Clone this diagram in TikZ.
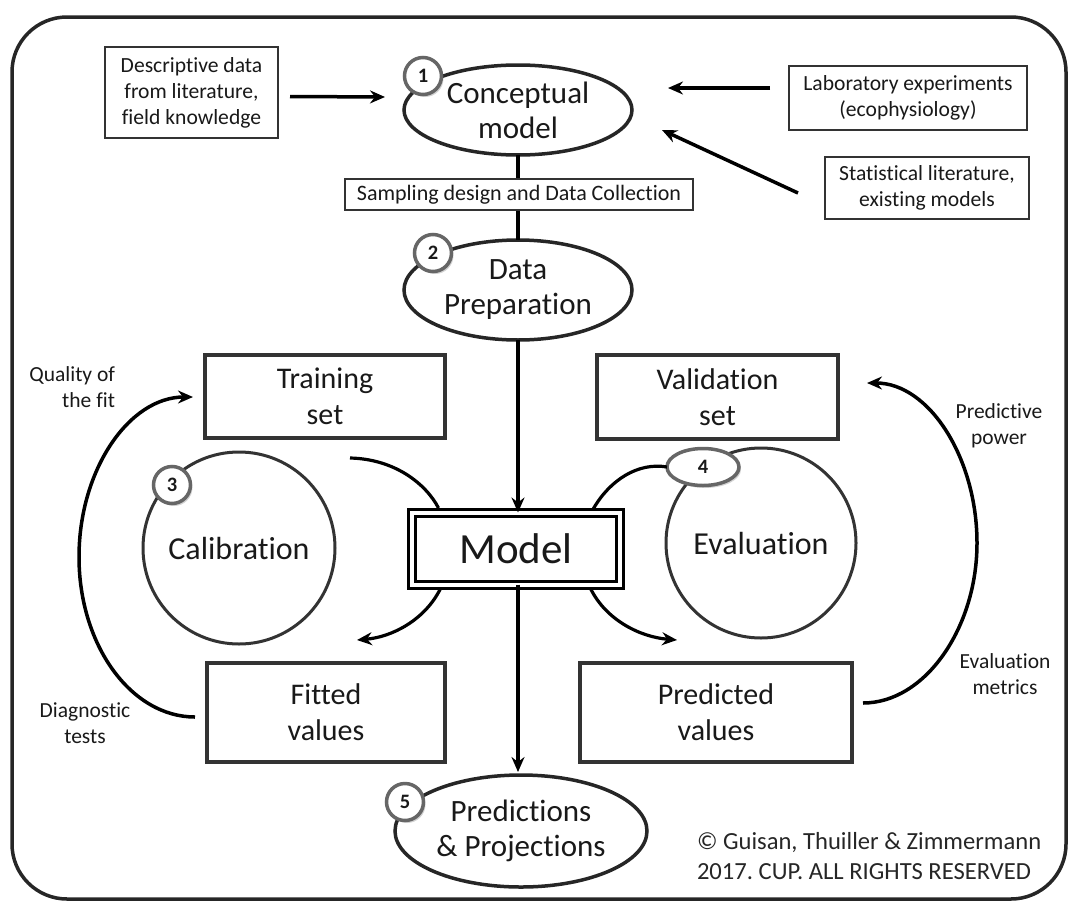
\documentclass[tikz,border=0pt]{standalone}
\usepackage{fontspec}
\setmainfont{Carlito}[Ligatures=NoCommon]
\usetikzlibrary{shapes.geometric,arrows.meta,shadows,calc}
\frenchspacing
\begin{document}
\begin{tikzpicture}[x=1pt,y=-1pt,
  every node/.style={inner sep=0pt, outer sep=0pt, text=black!90},
  arr/.style={line width=3.5pt,-{Stealth[length=15pt,width=13pt,inset=5pt]}},
  plain/.style={line width=3.5pt},
  smallbox/.style={draw=black!80, line width=1.4pt, fill=white, align=center, font=\fontsize{21.6}{26}\selectfont},
  bigbox/.style={draw=black!80, line width=3.5pt, fill=white, align=center, font=\fontsize{30}{36}\selectfont},
  ell/.style={ellipse, draw=black!85, line width=3.5pt, fill=white},
  bigtext/.style={align=center, font=\fontsize{31}{35}\selectfont},
  circ/.style={circle, draw=black!80, line width=3pt, font=\fontsize{32}{36}\selectfont},
  badge/.style={circle, draw=black!60, line width=3.5pt, fill=white, minimum size=37pt,
    font=\fontsize{20.5}{20}\selectfont\bfseries,
    drop shadow={opacity=0.35, shadow xshift=2pt, shadow yshift=-2.5pt}},
  side/.style={align=center, font=\fontsize{21.5}{26}\selectfont}
]
\useasboundingbox (0,0) rectangle (1070,902);
\draw[line width=3.5pt, draw=black!85, rounded corners=55pt] (12,17) rectangle (1066,899);

% top row
\node[smallbox, minimum width=173pt, minimum height=91pt] (desc) at (191.5,92.5)
  {Descriptive data\\from literature,\\field knowledge};
\node[smallbox, minimum width=238pt, minimum height=64pt] (lab) at (908,98)
  {Laboratory experiments\\(ecophysiology)};
\node[smallbox, minimum width=204pt, minimum height=62pt] (stat) at (927,188)
  {Statistical literature,\\existing models};

\node[ell, minimum width=228pt, minimum height=90pt,
  label={[bigtext]center:Conceptual\\model}] (cm) at (518,110) {};
\node[ell, minimum width=228pt, minimum height=100pt,
  label={[bigtext]center:Data\\Preparation}] (dp) at (518,290) {};

\draw[plain] (cm.south) -- (dp.north);
\node[smallbox, minimum width=348pt, minimum height=31pt, font=\fontsize{22}{26}\selectfont] (samp) at (519,194.5)
  {Sampling design and Data Collection};

\draw[arr] ([shift={(12,4)}]desc.east) -- ([shift={(-19,-13)}]cm.west);
\draw[arr] ([shift={(-19,-10)}]lab.west) -- ([shift={(36,-22)}]cm.east);
\draw[arr] ([shift={(-27,5)}]stat.west) -- ([shift={(30,20)}]cm.east);

% boxes
\node[bigbox, minimum width=240pt, minimum height=83pt] (train) at (325,396.5) {Training\\set};
\node[bigbox, minimum width=241pt, minimum height=84pt] (val) at (717.5,397) {Validation\\set};
\node[bigbox, minimum width=238pt, minimum height=99pt] (fit) at (326,712.5) {Fitted\\values};
\node[bigbox, minimum width=272pt, minimum height=99pt] (pred) at (716,712.5) {Predicted\\values};

% circles
\node[circ, minimum size=192pt] (cal) at (239,548) {Calibration};
\node[circ, minimum size=190pt] (eval) at (761,543) {Evaluation};

% model
\node[draw=black, line width=3pt, double=white, double distance=4pt, fill=white,
  minimum width=208pt, minimum height=72pt, font=\fontsize{43}{50}\selectfont] (model) at (516,548.5) {Model};

% predictions
\node[ell, minimum width=252pt, minimum height=112pt,
  label={[bigtext]center:Predictions\\\& Projections}] (pp) at (521,831) {};

\draw[arr] (dp.south) -- (dp.south |- model.north);
\draw[arr] (dp.south |- model.south) -- ([yshift=3pt]dp.south |- pp.north);

% badges
\node[badge] (b1) at (423,76) {1};
\node[badge] (b2) at (433,253) {2};
\node[badge] (b3) at (172,485) {3};
\node[badge, ellipse, minimum width=72pt, minimum height=37pt] (b4) at (703,467) {4};
\node[badge] (b5) at (405,802) {5};

% small arcs around the model
\coordinate (mtl) at ($(model.north west)+(26.5,-4.5)$);
\coordinate (mbl) at ($(model.south west)+(28.5,4)$);
\coordinate (mtr) at ($(model.north east)+(-26.5,-4)$);
\coordinate (mbr) at ($(model.south east)+(-29.5,4)$);
\coordinate (calstart) at (350,458);
\coordinate (fittip) at (357,640);
\coordinate (predtip) at (677,640);

\draw[line width=3.2pt] (calstart) .. controls (395,459) and (426,484) .. (mtl);
\draw[arr, line width=3.2pt] (mbl) .. controls (425,620) and (392,637) .. (fittip);
\draw[line width=3.2pt] (mtr) .. controls (610,480) and (638,462) .. (b4.west);
\draw[arr, line width=3.2pt] (mbr) .. controls (606,620) and (640,637) .. (predtip);

% big side arcs
\draw[arr] ([shift={(-12,4.5)}]fit.west) .. controls (131,717) and (79,645) .. (79,557)
  .. controls (79,470) and (129,397) .. ([shift={(-12,0.5)}]train.west);
\draw[arr] ([shift={(11,-9.5)}]pred.east) .. controls (925,703) and (977,628) .. (977,543)
  .. controls (977,458) and (929,383) .. ([shift={(29,-14)}]val.east);

% side labels
\node[side, align=right, anchor=east] (qual) at (115,387) {Quality of\\the fit};
\node[side] (diag) at (85,723) {Diagnostic\\tests};
\node[side] (ppow) at (999,426) {Predictive\\power};
\node[side] (emet) at (1005,674) {Evaluation\\metrics};

% copyright
\node[align=left, anchor=west, font=\fontsize{24.6}{30}\selectfont, text=black!85] (copy) at (697,856)
  {© Guisan, Thuiller \& Zimmermann\\2017. CUP. ALL RIGHTS RESERVED};
\end{tikzpicture}
\end{document}
